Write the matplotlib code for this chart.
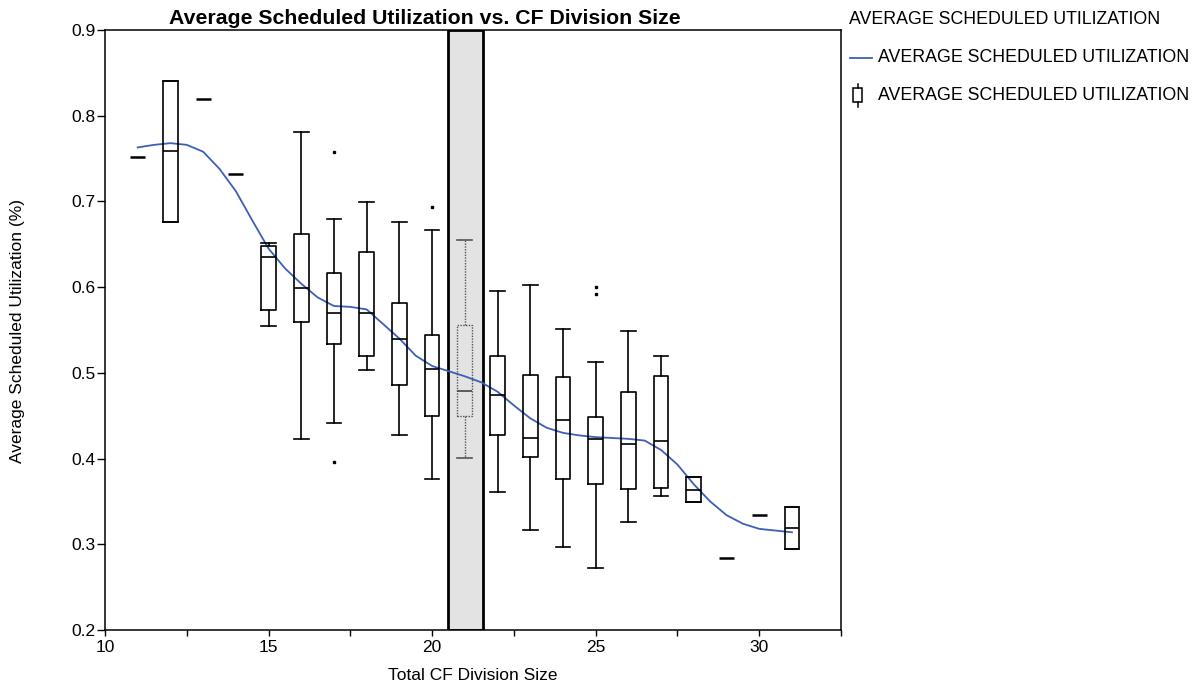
import matplotlib
matplotlib.use("Agg")
import matplotlib.pyplot as plt
from matplotlib.lines import Line2D
from matplotlib.patches import Rectangle
from matplotlib.ticker import MultipleLocator

plt.rcParams['font.family'] = ['Liberation Sans', 'DejaVu Sans']

# ---------------- data ----------------
title = "Average Scheduled Utilization vs. CF Division Size"
x_label = "Total CF Division Size"
y_label = "Average Scheduled Utilization (%)"
series_name = "AVERAGE SCHEDULED UTILIZATION"

box_x = [12, 15, 16, 17, 18, 19, 20, 21, 22, 23, 24, 25, 26, 27, 28, 31]
box_whishi = [0.841, 0.651, 0.781, 0.679, 0.699, 0.676, 0.667, 0.655, 0.595, 0.602, 0.551, 0.513, 0.549, 0.520, 0.378, 0.344]
box_q3 = [0.841, 0.648, 0.662, 0.616, 0.641, 0.582, 0.544, 0.556, 0.520, 0.498, 0.495, 0.449, 0.478, 0.496, 0.378, 0.344]
box_med = [0.759, 0.635, 0.599, 0.570, 0.570, 0.539, 0.505, 0.479, 0.474, 0.424, 0.445, 0.423, 0.417, 0.420, 0.363, 0.319]
box_q1 = [0.676, 0.573, 0.559, 0.534, 0.520, 0.486, 0.450, 0.450, 0.428, 0.402, 0.376, 0.370, 0.365, 0.366, 0.349, 0.294]
box_whislo = [0.676, 0.555, 0.423, 0.441, 0.503, 0.427, 0.376, 0.401, 0.361, 0.317, 0.297, 0.272, 0.326, 0.356, 0.349, 0.294]
box_fliers = {17: [0.758, 0.396], 20: [0.693], 25: [0.600, 0.592]}

single_x = [11, 13, 14, 29, 30]
single_y = [0.752, 0.819, 0.732, 0.284, 0.334]

smooth_x = [11, 11.5, 12, 12.5, 13, 13.5, 14, 14.5, 15, 15.5, 16, 16.5, 17, 17.5,
            18, 18.5, 19, 19.5, 20, 20.5, 21, 21.5, 22, 22.5, 23, 23.5, 24, 24.5,
            25, 25.5, 26, 26.5, 27, 27.5, 28, 28.5, 29, 29.5, 30, 30.5, 31]
smooth_y = [0.763, 0.766, 0.768, 0.766, 0.758, 0.738, 0.712, 0.678, 0.645, 0.622,
            0.604, 0.588, 0.578, 0.577, 0.574, 0.557, 0.540, 0.520, 0.508, 0.502,
            0.496, 0.489, 0.478, 0.462, 0.447, 0.436, 0.430, 0.427, 0.425, 0.424,
            0.423, 0.421, 0.410, 0.393, 0.370, 0.350, 0.334, 0.324, 0.318, 0.316, 0.314]

highlight_x = 21
x_ticks = [10, 15, 20, 25, 30]
y_ticks = [0.2, 0.3, 0.4, 0.5, 0.6, 0.7, 0.8, 0.9]

# ---------------- figure ----------------
W, H = 1199, 686
fig = plt.figure(figsize=(W / 100, H / 100), dpi=100)
ax = fig.add_axes([105 / W, 1 - 630 / H, (841 - 105) / W, (630 - 30) / H])
ax.set_xlim(10, 32.5)
ax.set_ylim(0.2, 0.9)

blue = '#3d5fb8'
fs = 12.5

# highlight band
ax.add_patch(Rectangle((highlight_x - 0.5, 0.2), 1.05, 0.7, facecolor='#e3e3e3',
                       edgecolor='black', linewidth=2.0, zorder=1))

# smooth line
ax.plot(smooth_x, smooth_y, color=blue, lw=1.3, zorder=3)

def make_stats(i):
    return dict(med=box_med[i], q1=box_q1[i], q3=box_q3[i],
                whislo=box_whislo[i], whishi=box_whishi[i],
                fliers=box_fliers.get(box_x[i], []))

normal = [i for i in range(len(box_x)) if box_x[i] != highlight_x]
hl = [i for i in range(len(box_x)) if box_x[i] == highlight_x]

common = dict(widths=0.45, capwidths=0.45, showfliers=True, patch_artist=False)
ax.bxp([make_stats(i) for i in normal], positions=[box_x[i] for i in normal],
       boxprops=dict(color='black', lw=1.2),
       whiskerprops=dict(color='black', lw=1.2),
       capprops=dict(color='black', lw=1.2),
       medianprops=dict(color='black', lw=1.2),
       flierprops=dict(marker='s', markersize=1.6, markerfacecolor='black',
                       markeredgecolor='black', linestyle='none'),
       manage_ticks=False, zorder=4, **common)
ax.bxp([make_stats(i) for i in hl], positions=[box_x[i] for i in hl],
       boxprops=dict(color='#555555', lw=1.0, linestyle=(0, (1, 1))),
       whiskerprops=dict(color='#555555', lw=1.0, linestyle=(0, (1, 1))),
       capprops=dict(color='#555555', lw=1.2),
       medianprops=dict(color='#444444', lw=1.2),
       manage_ticks=False, zorder=4, **common)

# single observations
ax.hlines(single_y, [x - 0.23 for x in single_x], [x + 0.23 for x in single_x],
          color='black', lw=1.8, zorder=4)

# axes styling
for s in ax.spines.values():
    s.set_linewidth(1.1)
ax.set_xticks(x_ticks)
ax.xaxis.set_minor_locator(MultipleLocator(2.5))
ax.set_yticks(y_ticks)
ax.set_yticklabels([f"{v:.1f}" for v in y_ticks])
ax.tick_params(axis='x', which='both', direction='out', length=4, width=1.0,
               labelsize=fs, pad=3)
ax.tick_params(axis='y', which='major', direction='out', length=6, width=1.0,
               labelsize=fs, pad=1)

fig.text(473 / W, 1 - 676 / H, x_label, ha='center', va='center', fontsize=fs)
fig.text(18 / W, 1 - 331 / H, y_label, ha='center', va='center', rotation=90, fontsize=fs)
fig.text(425 / W, 1 - 19 / H, title, ha='center', va='center', fontsize=15.3,
         fontweight='bold')

# legend
lfs = 12.8
fig.text(849 / W, 1 - 20 / H, series_name, ha='left', va='center', fontsize=lfs)
fig.add_artist(Line2D([850 / W, 872 / W], [1 - 58 / H, 1 - 58 / H], color=blue, lw=1.3))
fig.text(878 / W, 1 - 58 / H, series_name, ha='left', va='center', fontsize=lfs)
fig.add_artist(Rectangle((853 / W, 1 - 102 / H), 9 / W, 14 / H, transform=fig.transFigure,
                         facecolor='white', edgecolor='black', lw=1.1))
fig.add_artist(Line2D([857.5 / W, 857.5 / W], [1 - 88 / H, 1 - 84 / H], color='black', lw=1.1))
fig.add_artist(Line2D([857.5 / W, 857.5 / W], [1 - 102 / H, 1 - 107 / H], color='black', lw=1.1))
fig.text(878 / W, 1 - 95 / H, series_name, ha='left', va='center', fontsize=lfs)

fig.savefig("out.png", dpi=100)
